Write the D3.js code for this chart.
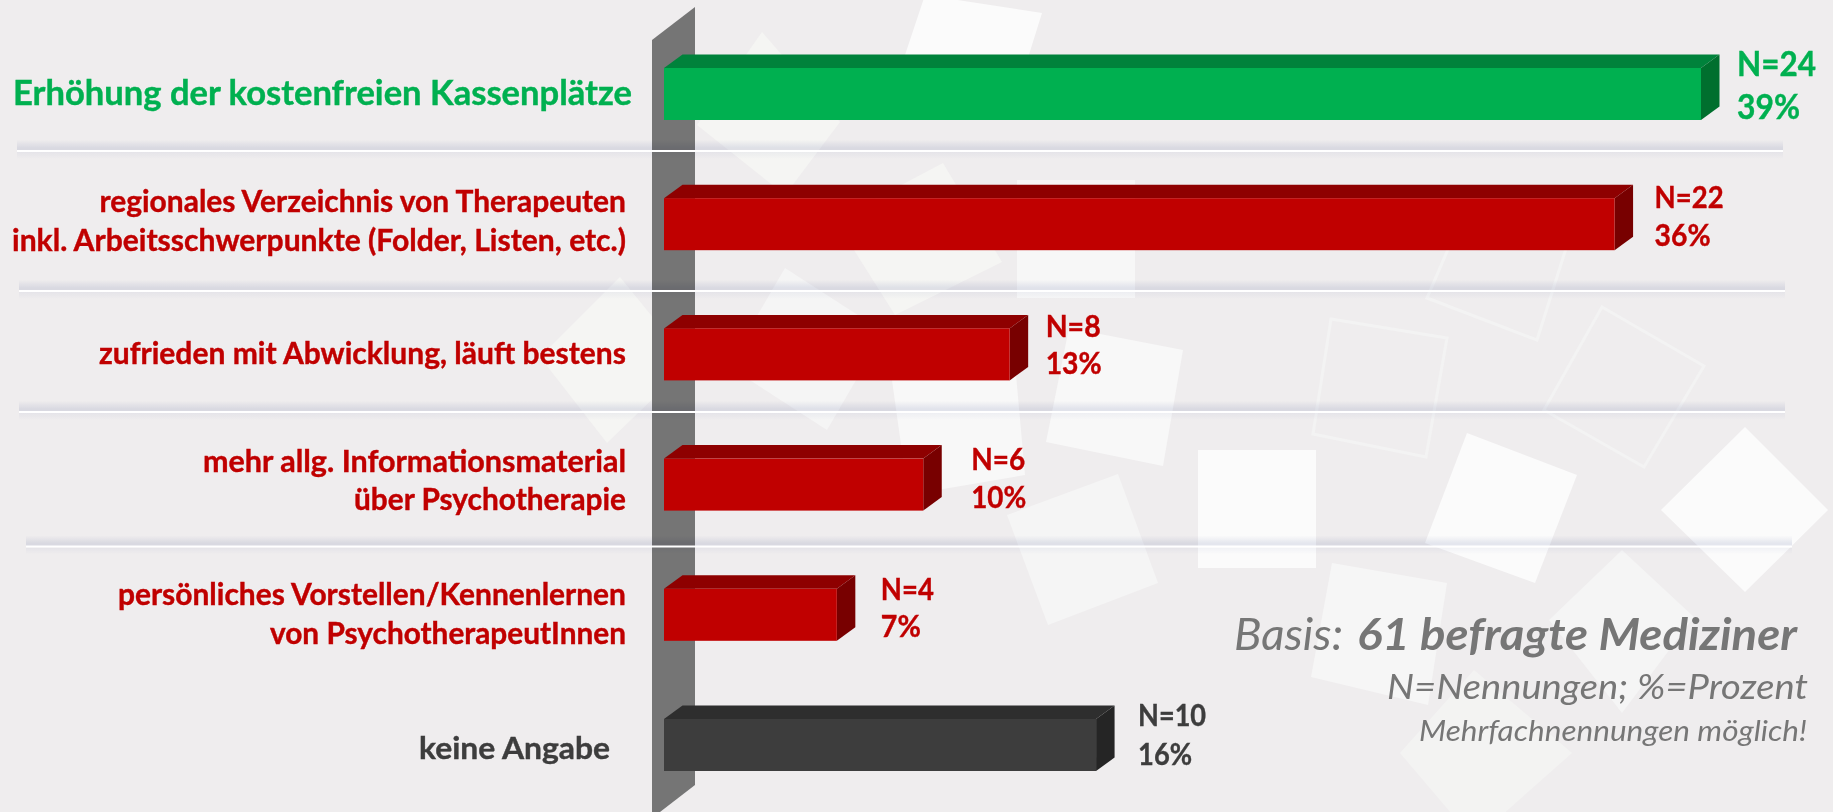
<!DOCTYPE html>
<html>
<head>
<meta charset="utf-8">
<script src="https://cdnjs.cloudflare.com/ajax/libs/d3/7.8.5/d3.min.js"></script>
<style>
  html, body { margin: 0; padding: 0; background: #EFEDEE; overflow: hidden; }
  text { font-family: Lato, "Open Sans", sans-serif; }
</style>
</head>
<body>
<div id="chart"></div>
<script>
// values
var categories = ['kassen', 'verzeichnis', 'abwicklung', 'material', 'vorstellen', 'keine'];
var nennungen = [24, 22, 8, 6, 4, 10];
var prozent = [39, 36, 13, 10, 7, 16];
var labelLines = [
  ['Erhöhung der kostenfreien Kassenplätze'],
  ['regionales Verzeichnis von Therapeuten', 'inkl. Arbeitsschwerpunkte (Folder, Listen, etc.)'],
  ['zufrieden mit Abwicklung, läuft bestens'],
  ['mehr allg. Informationsmaterial', 'über Psychotherapie'],
  ['persönliches Vorstellen/Kennenlernen', 'von PsychotherapeutInnen'],
  ['keine Angabe']
];

// layout, measured per row: [left, right, baseline offset from bar top]
var labelBoxes = [
  [[13, 632, 37]],
  [[99.5, 626, 14], [12, 626, 53]],
  [[99, 626, 36]],
  [[203, 626, 13], [354, 626, 51]],
  [[118, 626, 16], [270, 626, 55]],
  [[419, 610, 40]]
];
var rowStyle = [
  {front: '#00B050', top: '#00823B', side: '#006F2E', text: '#00B050', size: 34.5},
  {front: '#C00000', top: '#8E0000', side: '#780000', text: '#C00000', size: 30},
  {front: '#C00000', top: '#8E0000', side: '#780000', text: '#C00000', size: 30},
  {front: '#C00000', top: '#8E0000', side: '#780000', text: '#C00000', size: 30},
  {front: '#C00000', top: '#8E0000', side: '#780000', text: '#C00000', size: 30},
  {front: '#3D3D3D', top: '#2E2E2E', side: '#252525', text: '#3D3D3D', size: 30}
];
// value label boxes: gap after the bar, width of N=, width of %, baseline offsets
var valueBoxes = [
  [36, 79, 63, 8, 51],
  [40, 69, 56, 10, 48],
  [36, 55, 56, 9, 46],
  [48, 54, 55, 11, 49],
  [44, 53, 40, 11, 48],
  [42, 68, 54, 7, 46]
];

// background decoration
var shapes = [
  {pts: [[925,-5],[1042,13],[1010,115],[890,100]], fill: '#FBFBFB'},
  {pts: [[762,32],[840,122],[785,195],[697,125]], fill: '#F5F5F3'},
  {pts: [[943,163],[1002,262],[895,315],[835,220]], fill: '#F5F5F3'},
  {pts: [[1017,180],[1135,180],[1135,298],[1017,298]], fill: '#F7F7F7'},
  {pts: [[785,268],[884,332],[827,430],[728,366]], fill: '#F5F5F5'},
  {pts: [[620,277],[690,363],[607,443],[540,357]], fill: '#F5F5F3'},
  {pts: [[885,330],[1012,330],[1025,475],[908,495]], fill: '#F8F8F8'},
  {pts: [[1069,328],[1183,350],[1163,466],[1046,442]], fill: '#F8F8F8'},
  {pts: [[1118,474],[1158,583],[1048,625],[1007,515]], fill: '#F5F5F5'},
  {pts: [[1198,450],[1316,450],[1316,568],[1198,568]], fill: '#FBFBFB'},
  {pts: [[1467,433],[1577,475],[1535,583],[1425,543]], fill: '#FBFBFB'},
  {pts: [[1745,427],[1828,510],[1745,592],[1661,510]], fill: '#FBFBFB'},
  {pts: [[1332,563],[1447,583],[1428,705],[1311,677]], fill: '#F6F6F6'},
  {pts: [[1622,550],[1694,617],[1622,713],[1549,620]], fill: '#F5F5F5'},
  {pts: [[1474,670],[1572,753],[1474,840],[1400,753]], fill: '#F3F3F2'}
];
var outlines = [
  [[1427,298],[1537,340],[1575,220],[1465,210]],
  [[1331,319],[1447,338],[1426,457],[1313,434]],
  [[1602,307],[1704,366],[1644,467],[1544,410]]
];
var separators = [
  [17, 1783, 151],
  [19, 1785, 291],
  [19, 1785, 412],
  [26, 1792, 546.5]
];
var wall = [[652,40],[695,7],[695,785],[660,812],[652,812]];

var width = 1833, height = 812;
var depth = {x: 18.5, y: 13.5};

var svg = d3.select('#chart').append('svg')
  .attr('width', width)
  .attr('height', height)
  .style('display', 'block');

var defs = svg.append('defs');
var fade = defs.append('linearGradient').attr('id', 'fade')
  .attr('x1', 0).attr('y1', 0).attr('x2', 0).attr('y2', 1);
fade.append('stop').attr('offset', '0%').attr('stop-color', '#E8EAF2').attr('stop-opacity', 0);
fade.append('stop').attr('offset', '70%').attr('stop-color', '#E8EAF2').attr('stop-opacity', 1);
fade.append('stop').attr('offset', '100%').attr('stop-color', '#E8EAF2').attr('stop-opacity', 1);
var fadeDown = defs.append('linearGradient').attr('id', 'fadeDown')
  .attr('x1', 0).attr('y1', 0).attr('x2', 0).attr('y2', 1);
fadeDown.append('stop').attr('offset', '0%').attr('stop-color', '#F5F6FA').attr('stop-opacity', 1);
fadeDown.append('stop').attr('offset', '100%').attr('stop-color', '#F5F6FA').attr('stop-opacity', 0);

var x = d3.scaleLinear().domain([0, 24]).range([664, 1701]);
var y = d3.scaleBand().domain(categories)
  .range([68, 771])
  .paddingInner(1 - 52 / 130.2)
  .paddingOuter(0);

var poly = function(points) {
  return points.map(function(p) { return p.join(','); }).join(' ');
};

var drawBackground = function() {
  svg.append('rect').attr('width', width).attr('height', height).attr('fill', '#EFEDEE');

  svg.selectAll('polygon.shape').data(shapes).enter().append('polygon')
    .attr('class', 'shape')
    .attr('points', function(d) { return poly(d.pts); })
    .attr('fill', function(d) { return d.fill; });

  svg.selectAll('polygon.outline').data(outlines).enter().append('polygon')
    .attr('class', 'outline')
    .attr('points', poly)
    .attr('fill', 'none')
    .attr('stroke', '#F3F3F3')
    .attr('stroke-width', 3);
};

var drawWall = function() {
  svg.append('polygon').attr('points', poly(wall)).attr('fill', '#757575');
};

var drawSeparators = function() {
  separators.forEach(function(s) {
    svg.append('rect')
      .attr('x', s[0]).attr('width', s[1] - s[0])
      .attr('y', s[2] - 11).attr('height', 11)
      .attr('fill', 'url(#fade)')
      .style('mix-blend-mode', 'multiply');
    svg.append('rect')
      .attr('x', s[0]).attr('width', s[1] - s[0])
      .attr('y', s[2] + 1).attr('height', 7)
      .attr('fill', 'url(#fadeDown)')
      .style('mix-blend-mode', 'multiply');
    svg.append('rect')
      .attr('x', s[0]).attr('width', s[1] - s[0])
      .attr('y', s[2] - 1).attr('height', 2)
      .attr('fill', '#FFFFFF');
  });
};

var drawBars = function() {
  var bandH = y.bandwidth();
  categories.forEach(function(c, i) {
    var x0 = x(0), x1 = x(nennungen[i]), top = y(c), st = rowStyle[i];
    svg.append('polygon')
      .attr('points', poly([[x0, top], [x0 + depth.x, top - depth.y], [x1 + depth.x, top - depth.y], [x1, top]]))
      .attr('fill', st.top);
    svg.append('polygon')
      .attr('points', poly([[x1, top], [x1 + depth.x, top - depth.y], [x1 + depth.x, top + bandH - depth.y], [x1, top + bandH]]))
      .attr('fill', st.side);
    svg.append('rect')
      .attr('x', x0).attr('y', top)
      .attr('width', x1 - x0).attr('height', bandH)
      .attr('fill', st.front);
  });
};

// squeezed Lato gets thin stems, a hairline stroke brings the weight back
var boldText = function(txt, left, base, len, st) {
  svg.append('text')
    .attr('x', left).attr('y', base)
    .attr('textLength', len)
    .attr('lengthAdjust', 'spacingAndGlyphs')
    .attr('fill', st.text)
    .attr('stroke', st.text)
    .attr('stroke-width', 0.4)
    .attr('font-size', st.size)
    .attr('font-weight', 700)
    .text(txt);
};

var drawLabels = function() {
  categories.forEach(function(c, i) {
    var st = rowStyle[i], top = y(c);
    labelLines[i].forEach(function(line, j) {
      var box = labelBoxes[i][j];
      boldText(line, box[0], top + box[2], box[1] - box[0], st);
    });
    var v = valueBoxes[i];
    var lx = x(nennungen[i]) + v[0];
    boldText('N=' + nennungen[i], lx, top + v[3], v[1], st);
    boldText(prozent[i] + '%', lx, top + v[4], v[2], st);
  });
};

var drawNotes = function() {
  var grey = '#767676';
  var note = function(txt, left, right, base, size, weight) {
    svg.append('text')
      .attr('x', left).attr('y', base)
      .attr('textLength', right - left).attr('lengthAdjust', 'spacingAndGlyphs')
      .attr('fill', grey).attr('font-size', size)
      .attr('font-style', 'italic').attr('font-weight', weight)
      .text(txt);
  };
  note('Basis:', 1234, 1343, 650, 44, 400);
  note('61 befragte Mediziner', 1357, 1797, 650, 44, 700);
  note('N=Nennungen; %=Prozent', 1387, 1808, 699, 34, 400);
  note('Mehrfachnennungen möglich!', 1419, 1807, 741, 29, 400);
};

drawBackground();
drawWall();
drawSeparators();
drawBars();
drawLabels();
drawNotes();
</script>
</body>
</html>
